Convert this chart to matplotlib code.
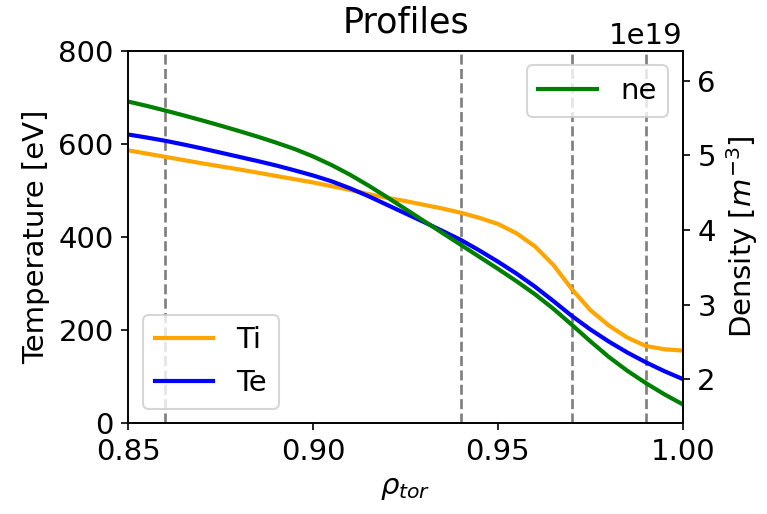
import matplotlib
matplotlib.use("Agg")
import matplotlib.pyplot as plt

plt.rcParams["font.size"] = 14

# Normalised toroidal radius grid
rho = [0.850, 0.855, 0.860, 0.865, 0.870, 0.875, 0.880, 0.885, 0.890, 0.895,
       0.900, 0.905, 0.910, 0.915, 0.920, 0.925, 0.930, 0.935, 0.940, 0.945,
       0.950, 0.955, 0.960, 0.965, 0.970, 0.975, 0.980, 0.985, 0.990, 0.995,
       1.000]

# Ion temperature [eV]
ti = [586, 579, 572, 565, 558, 551.5, 545, 538, 531, 524,
      517, 509, 501, 492, 484, 477, 469, 461, 452, 441,
      428, 408, 380, 340, 288, 243, 210, 184, 166, 159,
      156]

# Electron temperature [eV]
te = [620, 613.5, 606.5, 598.5, 590, 581, 572, 563, 553.5, 543,
      532, 519.5, 504.5, 487.5, 469, 450.5, 432, 413, 393.5, 371,
      347, 321.5, 293.5, 262.5, 230.5, 201.5, 175.5, 152, 131, 112,
      95]

# Electron density [1e19 m^-3]
ne = [5.720, 5.6625, 5.600, 5.535, 5.4675, 5.3975, 5.325, 5.250, 5.170, 5.085,
      4.985, 4.870, 4.740, 4.595, 4.440, 4.280, 4.120, 3.960, 3.800, 3.640,
      3.480, 3.315, 3.140, 2.945, 2.730, 2.510, 2.300, 2.115, 1.950, 1.800,
      1.665]

# Radial positions of interest
rho_marks = [0.86, 0.94, 0.97, 0.99]

fig = plt.figure(figsize=(767 / 150, 514 / 150), dpi=150)
ax = fig.add_axes([0.1673, 0.1765, 0.7228, 0.7249])

for r in rho_marks:
    ax.axvline(r, color="gray", linestyle="--", linewidth=1.3)

ax.plot(rho, ti, color="orange", label="Ti", linewidth=2)
ax.plot(rho, te, color="blue", label="Te", linewidth=2)
ax.set_xlim(0.85, 1.00)
ax.set_ylim(0, 800)
ax.set_xticks([0.85, 0.90, 0.95, 1.00])
ax.set_yticks([0, 200, 400, 600, 800])
ax.set_xlabel(r"$\rho_{tor}$")
ax.set_ylabel("Temperature [eV]")
ax.set_title("Profiles", pad=8.5)
ax.legend(loc="lower left")

ax2 = ax.twinx()
ax2.plot(rho, [v * 1e19 for v in ne], color="green", label="ne", linewidth=2)
ax2.set_ylim(1.411e19, 6.402e19)
ax2.set_ylabel(r"Density [$m^{-3}$]")
ax2.legend(loc="upper right")

fig.savefig("out.png", dpi=150)
